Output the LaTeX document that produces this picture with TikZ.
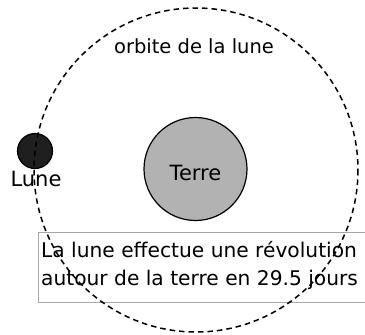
\documentclass[tikz,border=0pt]{standalone}
\usepackage{fontspec}
\setmainfont{DejaVu Sans}
\begin{document}
\begin{tikzpicture}[x=1pt,y=-1pt,
  orbit/.style={draw=black,line width=1.5pt,dash pattern=on 5.5pt off 4pt},
  planet/.style={circle,draw=black,line width=1.2pt,inner sep=0pt},
  lbl/.style={inner sep=0pt,font=\fontsize{21}{24}\selectfont},
  infobox/.style={draw=black!35,line width=0.8pt,fill=white,inner sep=0pt}]
\useasboundingbox (0,0) rectangle (365,335);
\node[infobox,minimum width=330pt,minimum height=70pt,anchor=north west] (box) at (38,232) {};
\node[inner sep=0pt,anchor=base west,align=left,font=\fontsize{20.2}{28}\selectfont] (txt) at (41,285) {La lune effectue une révolution\\autour de la terre en 29.5 jours};
\node[planet,fill=black!88,minimum size=35pt] (lune) at (35,151) {};
\node[lbl,anchor=base] (lunelbl) at (36,186) {Lune};
\node[planet,fill=black!30,minimum size=103pt] (terre) at (195.5,169) {};
\node[lbl,anchor=base] (terrelbl) at (195.5,180) {Terre};
\node[lbl,anchor=base,font=\fontsize{19.5}{23}\selectfont] (orbitlbl) at (194,53) {orbite de la lune};
\coordinate (c) at (196,170);
\draw[orbit] (c) circle (162);
\end{tikzpicture}
\end{document}
